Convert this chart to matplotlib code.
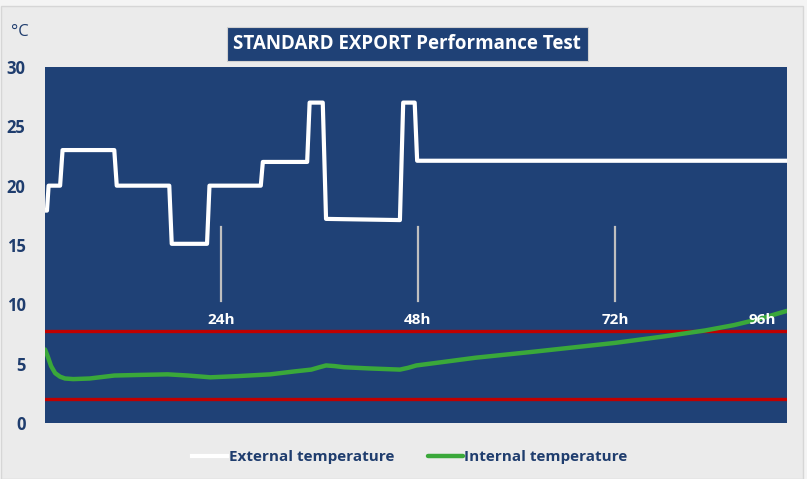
import matplotlib.pyplot as plt
from matplotlib.patches import Rectangle
import numpy as np

# External temperature: breakpoints (hour, degC)
ext_hours = [2.56, 2.8, 3.0, 4.4, 4.7, 11.0, 11.3, 17.7, 18.0, 22.3, 22.6,
             28.85, 29.1, 34.5, 34.8, 36.4, 36.8, 45.8, 46.2, 47.6, 47.9, 92.96]
ext_temp = [17.9, 17.9, 20.0, 20.0, 23.0, 23.0, 20.0, 20.0, 15.1, 15.1, 20.0,
            20.0, 22.0, 22.0, 27.0, 27.0, 17.2, 17.1, 27.0, 27.0, 22.1, 22.1]

# Internal temperature (hour, degC)
int_hours = [2.56, 2.9, 3.3, 3.8, 4.4, 5.0, 6.0, 8.0, 11.0, 14.0, 17.5, 20.0, 22.7,
             26.0, 30.0, 33.0, 35.0, 36.0, 36.8, 37.8, 39.0, 42.0, 45.8, 46.8, 47.8, 49.5,
             55.0, 62.0, 68.0, 72.0, 78.0, 83.0, 86.5, 89.5, 92.96]
int_temp = [6.2, 5.6, 4.8, 4.2, 3.9, 3.75, 3.7, 3.75, 4.0, 4.05, 4.1, 4.0, 3.85,
            3.95, 4.1, 4.35, 4.5, 4.7, 4.85, 4.8, 4.7, 4.6, 4.5, 4.65, 4.85, 5.0,
            5.5, 6.0, 6.45, 6.75, 7.3, 7.8, 8.25, 8.75, 9.45]

limit_low = 2.0
limit_high = 7.75

marker_hours = [24, 48, 72]
marker_labels = ['24h', '48h', '72h', '96h']
label_hours = [24, 48, 72, 90]

navy = '#1F4176'
text_col = '#1F3D6E'
bg = '#EBEBEB'

fig = plt.figure(figsize=(8.07, 4.79), dpi=100, facecolor='#F4F4F4')
fig.patches.append(Rectangle((1 / 807, 0), 802 / 807, 473 / 479, transform=fig.transFigure,
                             facecolor=bg, edgecolor='#D6D6D6', lw=1.0, zorder=-1))
ax = fig.add_axes([45 / 807, 56 / 479, 742 / 807, 356 / 479])
ax.set_zorder(1)
ax.set_facecolor(navy)

ax.axhline(limit_high, color='#C00000', lw=2.4, zorder=2)
ax.axhline(limit_low, color='#C00000', lw=2.4, zorder=2)

ax.plot(ext_hours, ext_temp, color='white', lw=3.0, zorder=4,
        solid_joinstyle='round', label='External temperature')
ax.plot(int_hours, int_temp, color='#3AA83A', lw=3.2, zorder=3,
        solid_capstyle='round', solid_joinstyle='round', label='Internal temperature')

for h in marker_hours:
    ax.plot([h, h], [10.3, 16.5], color='#BFBFBF', lw=1.6, zorder=2)
for h, lab in zip(label_hours, marker_labels):
    ax.text(h, 8.7, lab, color='white', fontsize=11, fontweight='bold',
            ha='center', va='center', family='Open Sans', zorder=5)

ax.set_xlim(2.56, 92.96)
ax.set_ylim(0, 30)
ax.set_xticks([])
ax.set_yticks(np.arange(0, 31, 5))
ax.tick_params(axis='y', length=0, pad=14, labelsize=12, labelcolor=text_col)
for t in ax.get_yticklabels():
    t.set_fontweight('bold')
    t.set_family('Open Sans')
for s in ax.spines.values():
    s.set_visible(False)

fig.text(20 / 807, 1 - 32 / 479, '°C', color=text_col, fontsize=12,
         ha='center', va='center', family='Open Sans')
fig.text(0.5 * (217 + 597) / 807, 1 - 44 / 479, 'STANDARD EXPORT Performance Test',
         color='white', fontsize=13.5, fontweight='bold', ha='center', va='center',
         family='Open Sans',
         bbox=dict(boxstyle='square,pad=0.35', facecolor=navy, edgecolor='#D0D0D0', lw=0.8))

leg = fig.legend(loc='center', bbox_to_anchor=(0.508, 1 - 457 / 479), ncol=2,
                 frameon=False, handlelength=2.3, handletextpad=0.1, columnspacing=2.2,
                 prop={'family': 'Open Sans', 'weight': 'bold', 'size': 11})
for t in leg.get_texts():
    t.set_color(text_col)

fig.savefig('out.png', dpi=100, facecolor=fig.get_facecolor())
